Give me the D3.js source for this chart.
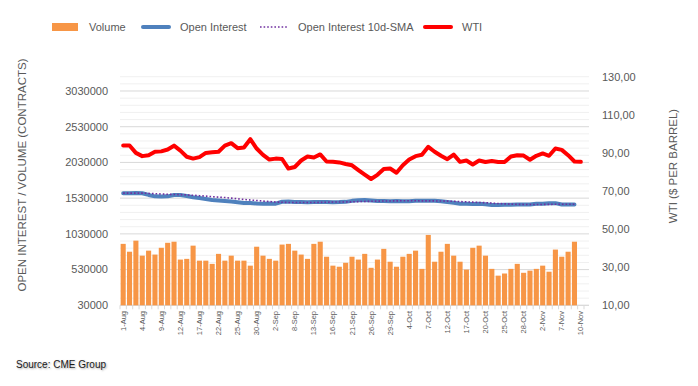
<!DOCTYPE html>
<html>
<head>
  <script src="https://d3js.org/d3.v7.min.js"></script>
  <style>
    body {
      margin: 0;
      background-color: #ffffff;
      overflow: hidden;
    }
    text {
      font-family: "Liberation Sans", Arial, sans-serif;
    }
  </style>
</head>
<body>
  <script>
    const dates = [
      "1-Aug","2-Aug","3-Aug","4-Aug","5-Aug","8-Aug","9-Aug","10-Aug","11-Aug","12-Aug",
      "15-Aug","16-Aug","17-Aug","18-Aug","19-Aug","22-Aug","23-Aug","24-Aug","25-Aug","26-Aug",
      "29-Aug","30-Aug","31-Aug",
      "1-Sep","2-Sep","6-Sep","7-Sep","8-Sep","9-Sep","12-Sep","13-Sep","14-Sep","15-Sep","16-Sep",
      "19-Sep","20-Sep","21-Sep","22-Sep","23-Sep","26-Sep","27-Sep","28-Sep","29-Sep","30-Sep",
      "3-Oct","4-Oct","5-Oct","6-Oct","7-Oct","10-Oct","11-Oct","12-Oct","13-Oct","14-Oct",
      "17-Oct","18-Oct","19-Oct","20-Oct","21-Oct","24-Oct","25-Oct","26-Oct","27-Oct","28-Oct","31-Oct",
      "1-Nov","2-Nov","3-Nov","4-Nov","7-Nov","8-Nov","9-Nov","10-Nov"
    ];

    const volume = [
      890000, 780000, 935000, 725000, 795000, 740000, 835000, 905000, 920000, 670000,
      680000, 865000, 655000, 655000, 610000, 750000, 655000, 725000, 655000, 655000,
      585000, 850000, 725000,
      680000, 655000, 880000, 890000, 795000, 740000, 680000, 890000, 920000, 710000, 585000,
      570000, 625000, 710000, 670000, 750000, 555000, 670000, 820000, 640000, 570000,
      710000, 750000, 795000, 540000, 1015000, 640000, 780000, 890000, 725000, 640000,
      530000, 835000, 865000, 725000, 540000, 445000, 475000, 540000, 610000, 485000, 515000,
      540000, 585000, 500000, 810000, 710000, 780000, 920000
    ];

    const openInterest = [
      1600000, 1600000, 1602000, 1598000, 1575000, 1555000, 1552000, 1555000, 1573000, 1575000,
      1560000, 1542000, 1531000, 1517000, 1503000, 1496000, 1489000, 1482000, 1473000, 1461000,
      1462000, 1454000, 1452000,
      1455000, 1453000, 1480000, 1482000, 1476000, 1475000, 1474000, 1476000, 1475000, 1477000, 1474000,
      1475000, 1478000, 1492000, 1502000, 1503000, 1496000, 1489000, 1490000, 1488000, 1489000,
      1487000, 1488000, 1493000, 1495000, 1494000, 1492000, 1487000, 1475000, 1464000, 1452000,
      1450000, 1449000, 1450000, 1446000, 1434000, 1433000, 1436000, 1437000, 1441000, 1442000, 1440000,
      1450000, 1452000, 1459000, 1460000, 1441000, 1442000, 1441000
    ];

    const openInterestSma = [
      1600000, 1600000, 1600000, 1600000, 1597000, 1592000, 1588000, 1584000, 1582000, 1579000,
      1575000, 1570000, 1564000, 1558000, 1551000, 1544000, 1538000, 1530000, 1521000, 1512000,
      1504000, 1497000, 1489000,
      1482000, 1476000, 1472000, 1470000, 1469000, 1468000, 1468000, 1469000, 1471000, 1473000, 1475000,
      1477000, 1477000, 1478000, 1481000, 1484000, 1486000, 1488000, 1490000, 1491000, 1492000,
      1493000, 1494000, 1493000, 1492000, 1492000, 1491000, 1490000, 1488000, 1486000, 1482000,
      1478000, 1474000, 1470000, 1466000, 1460000, 1455000, 1450000, 1446000, 1443000, 1442000, 1441000,
      1441000, 1442000, 1443000, 1444000, 1444000, 1445000, 1445000
    ];

    const wti = [
      93.9, 93.9, 90.0, 88.3, 88.8, 90.6, 90.8, 91.8, 93.8, 91.2,
      88.0, 87.0, 87.8, 90.0, 90.3, 90.6, 93.8, 95.1, 92.5, 92.8,
      97.2, 92.3, 89.0,
      86.5, 87.0, 86.8, 81.8, 82.6, 86.0, 88.1, 87.6, 89.2, 85.5, 85.3,
      85.0, 84.2, 83.5, 81.0, 78.6, 76.3, 78.5, 81.5, 81.8, 79.6,
      83.5, 86.5, 88.3, 89.0, 93.2, 90.6, 88.5, 86.7, 89.1, 85.3,
      86.0, 83.9, 86.0, 85.2, 85.7, 85.2, 85.2, 88.1, 88.8, 88.6, 86.4,
      88.5, 89.7, 88.5, 92.3, 91.6, 88.8, 85.5, 85.3
    ];

    const leftTicks = [30000, 530000, 1030000, 1530000, 2030000, 2530000, 3030000];
    const rightTicks = [10, 30, 50, 70, 90, 110, 130];

    const width = 698, height = 386;
    const plot = { left: 120, right: 589, top: 76.7, bottom: 305.3 };

    const svg = d3.select("body").append("svg")
      .attr("width", width)
      .attr("height", height);

    const x = d3.scaleBand()
      .domain(dates)
      .range([plot.left, 584])
      .paddingInner(0.2)
      .paddingOuter(0.1);

    const yLeft = d3.scaleLinear()
      .domain([30000, 3230000])
      .range([plot.bottom, plot.top]);

    const yRight = d3.scaleLinear()
      .domain([10, 130])
      .range([plot.bottom, plot.top]);

    // minor + major gridlines
    const minor = d3.range(30000, 3230001, 100000);
    svg.append("g")
      .selectAll("line")
      .data(minor)
      .enter().append("line")
      .attr("x1", plot.left)
      .attr("x2", plot.right)
      .attr("y1", d => yLeft(d))
      .attr("y2", d => yLeft(d))
      .attr("stroke", d => leftTicks.includes(d) ? "#d9d9d9" : "#f0f0f0")
      .attr("stroke-width", 1);

    // bottom axis line + tick marks
    svg.append("line")
      .attr("x1", plot.left).attr("x2", plot.right)
      .attr("y1", plot.bottom).attr("y2", plot.bottom)
      .attr("stroke", "#d9d9d9");

    const step = x.step();
    const tickXs = d3.range(dates.length + 1).map(i => x(dates[0]) - x.paddingInner() * step / 2 + i * step);
    svg.append("g")
      .selectAll("line")
      .data(tickXs)
      .enter().append("line")
      .attr("x1", d => d).attr("x2", d => d)
      .attr("y1", plot.bottom).attr("y2", plot.bottom + 4)
      .attr("stroke", "#d9d9d9");

    // volume bars
    svg.append("g")
      .selectAll("rect")
      .data(volume)
      .enter().append("rect")
      .attr("x", (d, i) => x(dates[i]))
      .attr("width", x.bandwidth())
      .attr("y", d => yLeft(d))
      .attr("height", d => plot.bottom - yLeft(d))
      .attr("fill", "#f79646");

    const cx = i => x(dates[i]) + x.bandwidth() / 2;

    const oiLine = d3.line()
      .x((d, i) => cx(i))
      .y(d => yLeft(d));

    svg.append("path")
      .datum(openInterest)
      .attr("d", oiLine)
      .attr("fill", "none")
      .attr("stroke", "#4f81bd")
      .attr("stroke-width", 4)
      .attr("stroke-linejoin", "round")
      .attr("stroke-linecap", "round");

    svg.append("path")
      .datum(openInterestSma)
      .attr("d", oiLine)
      .attr("fill", "none")
      .attr("stroke", "#7030a0")
      .attr("stroke-width", 1.6)
      .attr("stroke-dasharray", "1.6,2");

    const wtiLine = d3.line()
      .x((d, i) => cx(i))
      .y(d => yRight(d));

    svg.append("path")
      .datum(wti)
      .attr("d", wtiLine)
      .attr("fill", "none")
      .attr("stroke", "#ff0000")
      .attr("stroke-width", 4)
      .attr("stroke-linejoin", "round")
      .attr("stroke-linecap", "round");

    // left axis labels
    svg.append("g")
      .selectAll("text")
      .data(leftTicks)
      .enter().append("text")
      .attr("x", 108)
      .attr("y", d => yLeft(d))
      .attr("dy", "0.35em")
      .attr("text-anchor", "end")
      .attr("font-size", "11px")
      .attr("fill", "#595959")
      .text(d => d);

    // right axis labels
    svg.append("g")
      .selectAll("text")
      .data(rightTicks)
      .enter().append("text")
      .attr("x", 602)
      .attr("y", d => yRight(d))
      .attr("dy", "0.35em")
      .attr("font-size", "11px")
      .attr("fill", "#595959")
      .text(d => d.toFixed(2).replace(".", ","));

    // x labels, every third day
    svg.append("g")
      .selectAll("text")
      .data(dates.filter((d, i) => i % 3 === 0))
      .enter().append("text")
      .attr("transform", d => `translate(${x(d) + x.bandwidth() / 2 + 2.5},311) rotate(-90)`)
      .attr("text-anchor", "end")
      .attr("font-size", "7.5px")
      .attr("fill", "#595959")
      .text(d => d);

    // axis titles
    svg.append("text")
      .attr("transform", "translate(26,175) rotate(-90)")
      .attr("text-anchor", "middle")
      .attr("font-size", "11.5px")
      .attr("fill", "#595959")
      .text("OPEN INTEREST / VOLUME (CONTRACTS)");

    svg.append("text")
      .attr("transform", "translate(677,166) rotate(-90)")
      .attr("text-anchor", "middle")
      .attr("font-size", "11.5px")
      .attr("fill", "#595959")
      .text("WTI ($ PER BARREL)");

    // legend
    const legend = svg.append("g").attr("font-size", "11px").attr("fill", "#595959");
    legend.append("rect").attr("x", 52).attr("y", 23).attr("width", 26).attr("height", 8).attr("fill", "#f79646");
    legend.append("text").attr("x", 89).attr("y", 30.5).text("Volume");
    legend.append("line").attr("x1", 143).attr("x2", 169).attr("y1", 27).attr("y2", 27)
      .attr("stroke", "#4f81bd").attr("stroke-width", 4).attr("stroke-linecap", "round");
    legend.append("text").attr("x", 180).attr("y", 30.5).text("Open Interest");
    legend.append("line").attr("x1", 260).attr("x2", 287).attr("y1", 27).attr("y2", 27)
      .attr("stroke", "#7030a0").attr("stroke-width", 1.6).attr("stroke-dasharray", "1.6,2");
    legend.append("text").attr("x", 298).attr("y", 30.5).text("Open Interest 10d-SMA");
    legend.append("line").attr("x1", 425).attr("x2", 451).attr("y1", 27).attr("y2", 27)
      .attr("stroke", "#ff0000").attr("stroke-width", 4).attr("stroke-linecap", "round");
    legend.append("text").attr("x", 462).attr("y", 30.5).text("WTI");

    svg.append("text")
      .attr("x", 16)
      .attr("y", 368)
      .attr("font-size", "10px")
      .attr("fill", "#1a1a1a")
      .style("text-shadow", "1px 1px 2px rgba(0,0,0,0.35)")
      .text("Source: CME Group");
  </script>
</body>
</html>
